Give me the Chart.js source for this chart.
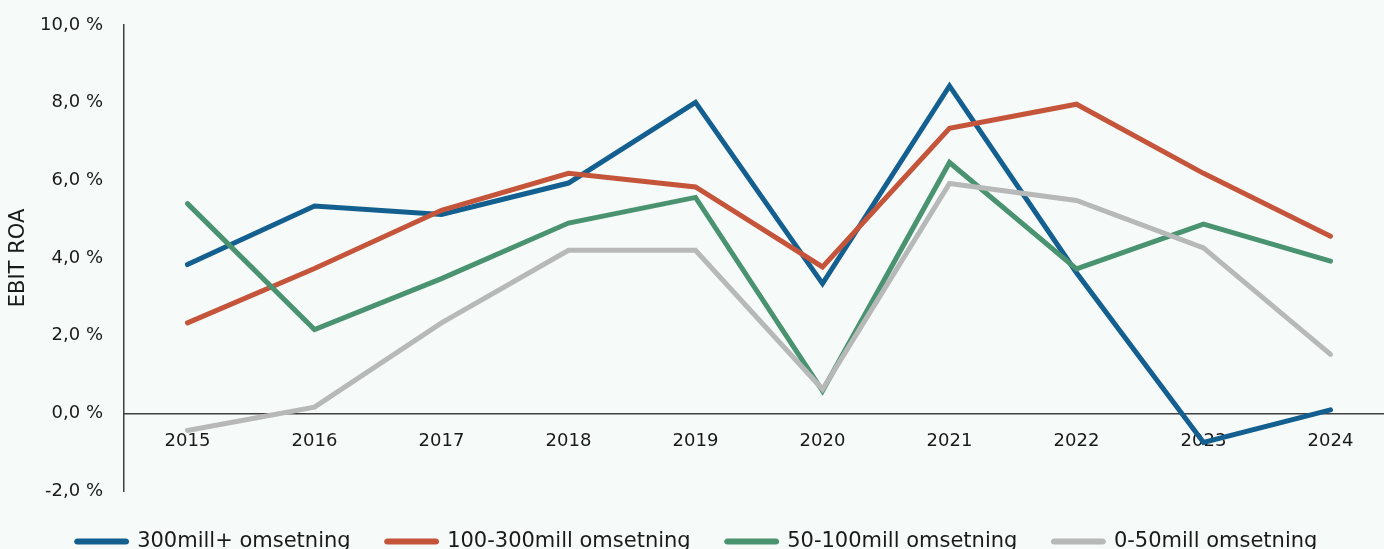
<!DOCTYPE html>
<html>
<head>
<meta charset="utf-8">
<script src="https://cdn.jsdelivr.net/npm/chart.js@4"></script>
<style>
    html, body { margin: 0; padding: 0; background: #f6faf9; overflow: hidden; }
    #wrap { width: 1394px; height: 562px; position: relative; }
</style>
</head>
<body>
<div id="wrap"><canvas id="roaChart"></canvas></div>
<script>
const years = ['2015', '2016', '2017', '2018', '2019', '2020', '2021', '2022', '2023', '2024'];
const seriesNames = ['300mill+ omsetning', '100-300mill omsetning', '50-100mill omsetning', '0-50mill omsetning'];
const big = [3.83, 5.34, 5.12, 5.93, 8.01, 3.34, 8.43, 3.62, -0.75, 0.09];        // 300mill+
const mid = [2.33, 3.73, 5.23, 6.18, 5.83, 3.77, 7.34, 7.96, 6.18, 4.56];         // 100-300mill
const small = [5.40, 2.16, 3.47, 4.90, 5.56, 0.58, 6.46, 3.72, 4.87, 3.92];       // 50-100mill
const tiny = [-0.44, 0.16, 2.33, 4.20, 4.20, 0.62, 5.92, 5.48, 4.26, 1.52];       // 0-50mill
const yTicks = [-2, 0, 2, 4, 6, 8, 10];

const colors = ['#135f8f', '#c5553a', '#4a9370', '#b7b8b8'];
const values = [big, mid, small, tiny];

document.addEventListener('DOMContentLoaded', function() {
    const ctx = document.getElementById('roaChart').getContext('2d');
    const font = "'DejaVu Sans', sans-serif";

    const datasets = values.map((v, i) => ({
        label: seriesNames[i],
        data: v,
        borderColor: colors[i],
        backgroundColor: colors[i],
        borderWidth: 5,
        borderCapStyle: 'round',
        pointRadius: 0,
        tension: 0,
        order: 4 - i // later series on top, like the original
    }));

    new Chart(ctx, {
        type: 'line',
        data: { labels: years, datasets: datasets },
        options: {
            responsive: true,
            maintainAspectRatio: false,
            animation: false,
            layout: { padding: { top: 0, right: 0, bottom: 0, left: 0 } },
            scales: {
                x: {
                    offset: true,
                    position: { y: 0 },
                    grid: { display: false, drawTicks: false },
                    border: { display: true, color: '#404040', width: 1.5 },
                    ticks: { color: '#1a1a1a', font: { family: font, size: 18 }, padding: 17 }
                },
                y: {
                    min: -2,
                    max: 10,
                    afterBuildTicks: function(scale) { scale.ticks = yTicks.map(v => ({ value: v })); },
                    grid: { display: false, drawTicks: false },
                    border: { display: true, color: '#404040', width: 1.5 },
                    ticks: {
                        color: '#1a1a1a',
                        font: { family: font, size: 18 },
                        padding: 21,
                        callback: function(value) { return value.toFixed(1).replace('.', ',') + ' %'; }
                    },
                    title: {
                        display: true,
                        text: 'EBIT ROA',
                        color: '#1a1a1a',
                        font: { family: font, size: 21 },
                        padding: { top: 6, bottom: 0 }
                    },
                    afterFit: function(scale) {
                        scale.width = 124;
                        scale.paddingTop = 25;
                        scale.paddingBottom = 12;
                    }
                }
            },
            plugins: {
                legend: {
                    position: 'bottom',
                    title: { display: true, text: '', font: { size: 4, lineHeight: 1 }, padding: 0 },
                    labels: {
                        color: '#1a1a1a',
                        font: { family: font, size: 21 },
                        boxWidth: 50,
                        boxHeight: 1,
                        useBorderRadius: true,
                        borderRadius: 1,
                        padding: 36,
                        sort: function(a, b) { return a.datasetIndex - b.datasetIndex; }
                    }
                },
                tooltip: { enabled: false }
            }
        }
    });
});
</script>
</body>
</html>
